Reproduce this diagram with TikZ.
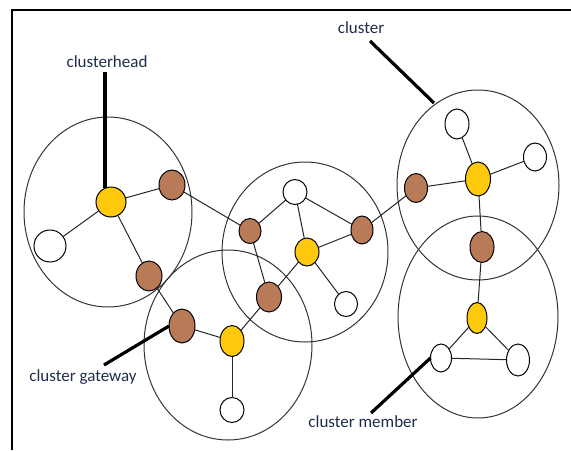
\documentclass[tikz,border=0pt]{standalone}
\usepackage{fontspec}
\setmainfont{Carlito}
\usetikzlibrary{shapes.geometric}
\definecolor{chyellow}{HTML}{FFC90E}
\definecolor{gwbrown}{HTML}{B97A57}
\definecolor{labelblue}{HTML}{1F2D4A}
\definecolor{ringgray}{HTML}{333333}
\tikzset{
  px/.style 2 args={ellipse, inner sep=0pt, outer sep=0pt,
    minimum width=#1*1.5pt, minimum height=#2*1.5pt},
  cluster/.style={draw=ringgray, line width=0.75pt},
  headnode/.style={draw=black, line width=0.75pt, fill=chyellow},
  gatenode/.style={draw=black, line width=0.75pt, fill=gwbrown},
  membernode/.style={draw=black, line width=0.75pt, fill=white},
  link/.style={draw=black!85, line width=0.75pt},
  pointer/.style={draw=black, line width=2.4pt},
  lbl/.style={font=\fontsize{12.75}{15}\selectfont, text=labelblue, inner sep=1pt}
}
\begin{document}
\begin{tikzpicture}[x=0.75pt,y=-0.75pt]
\useasboundingbox (0,0) rectangle (571,450);
% frame
\draw[line width=2.2pt] (12,450) -- (12,10) -- (571,10);
% clusters
\node[cluster, px={84}{95}] (c1) at (108,212) {};
\node[cluster, px={83}{90}] (c2) at (305,252) {};
\node[cluster, px={84}{95}] (c3) at (228,345) {};
\node[cluster, px={81}{95}] (c4) at (478,185) {};
\node[cluster, px={80}{101}] (c5) at (478,317) {};
% cluster 1
\node[headnode, px={15}{15}] (h1) at (111,202) {};
\node[gatenode, px={13}{15}] (b1a) at (172,185) {};
\node[membernode, px={16}{16}] (w1) at (50,246) {};
\node[gatenode, px={13}{15}] (b1b) at (149,276) {};
% cluster 2
\node[membernode, px={12}{12.5}] (w2a) at (295,192) {};
\node[gatenode, px={11}{12.5}] (b2a) at (250,231) {};
\node[headnode, px={12}{14}] (h2) at (307,252) {};
\node[gatenode, px={11}{14}] (b2b) at (362,230) {};
\node[membernode, px={11.5}{12.5}] (w2b) at (346,304) {};
\node[gatenode, px={12.5}{15}] (b2c) at (269,297) {};
% cluster 3
\node[gatenode, px={13}{17}] (b3a) at (182,326) {};
\node[headnode, px={12}{15.5}] (h3) at (232,341) {};
\node[membernode, px={12}{12.5}] (w3) at (232,410) {};
% cluster 4
\node[membernode, px={12}{15}] (w4a) at (457,124) {};
\node[membernode, px={11.5}{14}] (w4b) at (535,157) {};
\node[headnode, px={12.5}{17}] (h4) at (478,179) {};
\node[gatenode, px={11.5}{14.5}] (b4) at (416,188) {};
% cluster 5
\node[gatenode, px={12}{15.5}] (b5) at (482,247) {};
\node[headnode, px={10}{15.5}] (h5) at (477,318) {};
\node[membernode, px={10.5}{14}] (w5a) at (441,358) {};
\node[membernode, px={11.5}{16}] (w5b) at (518,360) {};
% links
\draw[link] (h1) -- (b1a);
\draw[link] (h1) -- (w1);
\draw[link] (h1) -- (b1b);
\draw[link] (b1a) -- (b2a);
\draw[link] (b1b) -- (b3a);
\draw[link] (b2a) -- (w2a);
\draw[link] (w2a) -- (b2b);
\draw[link] (w2a) -- (h2);
\draw[link] (h2) -- (b2b);
\draw[link] (h2) -- (w2b);
\draw[link] (h2) -- (b2c);
\draw[link] (b2a) -- (b2c);
\draw[link] (b2c) -- (h3);
\draw[link] (b3a) -- (h3);
\draw[link] (h3) -- (w3);
\draw[link] (b2b) -- (b4);
\draw[link] (b4) -- (h4);
\draw[link] (h4) -- (w4a);
\draw[link] (h4) -- (w4b);
\draw[link] (h4) -- (b5);
\draw[link] (b5) -- (h5);
\draw[link] (h5) -- (w5a);
\draw[link] (h5) -- (w5b);
\draw[link] (w5a) -- (w5b);
% labels
\node[lbl] (tch) at (107,62) {clusterhead};
\node[lbl] (tcl) at (361,28) {cluster};
\node[lbl] (tgw) at (83,377) {cluster gateway};
\node[lbl] (tcm) at (363,422) {cluster member};
\coordinate (pch) at (105,72);
\coordinate (pcl) at (370,41);
\coordinate (pcle) at (434,103);
\coordinate (pgw) at (104,365);
\coordinate (pcm) at (371,413);
\draw[pointer] (pch) -- (pch |- h1.114);
\draw[pointer] (pcl) -- (pcle);
\draw[pointer] (pgw) -- (b3a.west);
\draw[pointer] (pcm) -- (w5a.west);
\end{tikzpicture}
\end{document}
